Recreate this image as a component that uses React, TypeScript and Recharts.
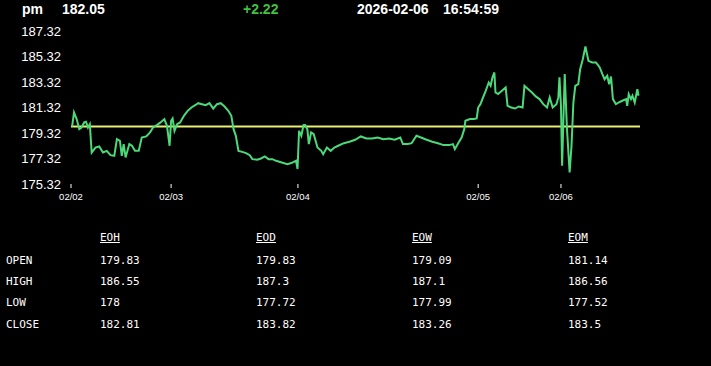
import { LineChart, Line, XAxis, YAxis, ReferenceLine } from "recharts";

// minute index since session open, and last price at that index
const times = [
  3, 8, 15, 22, 28, 35, 40, 45, 50, 55, 65, 75, 85, 95, 105, 115, 122, 130, 135, 140,
  145, 155, 162, 170, 180, 188, 200, 210, 218, 228, 238, 248, 255, 262, 266, 270, 275, 282, 290, 300,
  310, 320, 330, 338, 348, 358, 368, 378, 388, 398, 408, 418, 426, 432, 438, 445, 455, 465, 475, 482,
  495, 505, 515, 525, 535, 545, 560, 575, 585, 598, 602, 606, 612, 618, 622, 628, 632, 638, 645, 655,
  665, 670, 680, 690, 700, 710, 725, 740, 755, 770, 785, 800, 815, 830, 845, 860, 875, 882, 895, 905,
  918, 930, 945, 960, 975, 990, 1005, 1015, 1020, 1030, 1038, 1045, 1048, 1060, 1070, 1078, 1082, 1088, 1095, 1102,
  1110, 1115, 1120, 1125, 1128, 1135, 1145, 1155, 1160, 1170, 1180, 1190, 1200, 1205, 1215, 1225, 1235, 1245, 1255, 1265,
  1272, 1280, 1290, 1295, 1298, 1302, 1305, 1308, 1312, 1318, 1325, 1330, 1335, 1340, 1348, 1353, 1360, 1367, 1375, 1385,
  1395, 1405, 1412, 1418, 1425, 1430, 1435, 1440, 1448, 1455, 1465, 1475, 1478, 1482, 1488, 1492, 1498, 1505, 1508,
];
const prices = [
  179.83, 180.93, 180.41, 179.62, 179.75, 180.15, 180.2, 179.75, 180.01, 177.79, 178.18, 178.26, 177.79, 177.92, 177.58, 177.53, 178.84, 178.71, 177.53, 178.45,
  177.4, 178.45, 178.32, 177.92, 177.92, 178.97, 179.05, 179.36, 179.75, 179.94, 180.15, 180.41, 179.88, 178.32, 180.28, 180.46, 179.49, 180.01, 180.15, 180.67,
  181.06, 181.32, 181.5, 181.66, 181.58, 181.5, 181.66, 181.24, 181.58, 181.66, 181.4, 181.06, 180.67, 179.62, 179.1, 177.92, 177.84, 177.74, 177.58, 177.27,
  177.22, 177.32, 177.48, 177.27, 177.27, 177.14, 177.01, 176.88, 176.96, 177.14, 176.49, 179.49, 179.1, 179.94, 179.94, 179.62, 178.45, 179.36, 179.23, 178.18,
  177.92, 177.66, 178.18, 177.92, 178.18, 178.32, 178.52, 178.63, 178.79, 179.05, 178.89, 178.89, 178.97, 178.84, 178.89, 178.79, 178.97, 178.45, 178.45, 178.52,
  179.1, 178.97, 178.79, 178.63, 178.52, 178.37, 178.37, 178.45, 178.05, 178.58, 178.97, 179.62, 180.28, 180.41, 180.41, 180.46, 181.32, 181.58, 182.11, 182.63,
  183.28, 183.02, 183.68, 184.07, 182.5, 182.37, 182.63, 182.89, 181.45, 181.32, 181.24, 181.4, 181.32, 183.02, 182.76, 182.5, 182.19, 181.98, 181.58, 181.32,
  182.11, 181.32, 181.58, 182.11, 183.68, 181.45, 176.75, 179.88, 183.94, 179.62, 176.22, 178.32, 181.71, 183.02, 183.15, 184.33, 185.11, 186.11, 184.98, 184.85,
  184.85, 184.46, 183.94, 183.54, 183.81, 183.15, 183.75, 181.98, 181.58, 181.71, 181.85, 181.98, 181.45, 182.37, 181.98, 182.24, 181.71, 182.76, 182.24,
];

const yTicks = [175.32, 177.32, 179.32, 181.32, 183.32, 185.32, 187.32];
const dayTicks = [0, 266, 603, 1082, 1302];
const dayLabels = ["02/02", "02/03", "02/04", "02/05", "02/06"];
const openPrice = 179.83;

const rowNames = ["OPEN", "HIGH", "LOW", "CLOSE"];
const colNames = ["EOH", "EOD", "EOW", "EOM"];
const stats = [
  ["179.83", "179.83", "179.09", "181.14"],
  ["186.55", "187.3", "187.1", "186.56"],
  ["178", "177.72", "177.99", "177.52"],
  ["182.81", "183.82", "183.26", "183.5"],
];

const data = times.map((t, i) => ({ t, p: prices[i] }));

const hdr = { position: "absolute" as const, top: 1, fontFamily: "'Liberation Sans', Arial, sans-serif", fontWeight: 700, fontSize: 14, color: "#fff", whiteSpace: "pre" as const };
const mono = { position: "absolute" as const, fontFamily: "'DejaVu Sans Mono', monospace", fontSize: 11, color: "#fff", whiteSpace: "pre" as const };
const colX = [100, 256, 412, 568];
const rowTop = [254, 275, 296, 318];

export default function App() {
  return (
    <div style={{ position: "fixed", left: 0, top: 0, width: 711, height: 366, background: "#000", overflow: "hidden" }}>
      <span style={{ ...hdr, left: 22 }}>pm</span>
      <span style={{ ...hdr, left: 62 }}>182.05</span>
      <span style={{ ...hdr, left: 243, color: "#3fc23f" }}>+2.22</span>
      <span style={{ ...hdr, left: 357 }}>2026-02-06</span>
      <span style={{ ...hdr, left: 443 }}>16:54:59</span>

      <div style={{ position: "absolute", left: 0, top: 0 }}>
        <LineChart width={711} height={215} data={data} margin={{ top: 31, right: 71, left: 0, bottom: 1 }}>
          <XAxis
            dataKey="t" type="number" domain={[0, 1512]} ticks={dayTicks}
            tickFormatter={(v: number) => dayLabels[dayTicks.indexOf(v)] ?? ""}
            axisLine={false} tickLine={{ stroke: "#fff" }} tickSize={4} tickMargin={5} height={30}
            tick={{ fill: "#fff", fontSize: 9.5, fontFamily: "'Liberation Sans', Arial, sans-serif" }}
            interval={0}
          />
          <YAxis
            type="number" domain={[175.32, 187.32]} ticks={yTicks} width={71}
            tickFormatter={(v: number) => v.toFixed(2)}
            axisLine={false} tickLine={false} tickSize={0} tickMargin={10} interval={0}
            tick={{ fill: "#fff", fontSize: 13, fontFamily: "'Liberation Sans', Arial, sans-serif" }}
          />
          <ReferenceLine y={openPrice} stroke="#e6ef74" strokeWidth={2} />
          <Line type="linear" dataKey="p" stroke="#4cd97a" strokeWidth={2} dot={false} isAnimationActive={false} />
        </LineChart>
      </div>

      {colNames.map((c, j) => (
        <span key={c} style={{ ...mono, left: colX[j], top: 231, textDecoration: "underline" }}>{c}</span>
      ))}
      {rowNames.map((r, i) => (
        <div key={r}>
          <span style={{ ...mono, left: 6, top: rowTop[i] }}>{r}</span>
          {stats[i].map((v, j) => (
            <span key={j} style={{ ...mono, left: colX[j], top: rowTop[i] }}>{v}</span>
          ))}
        </div>
      ))}
    </div>
  );
}
